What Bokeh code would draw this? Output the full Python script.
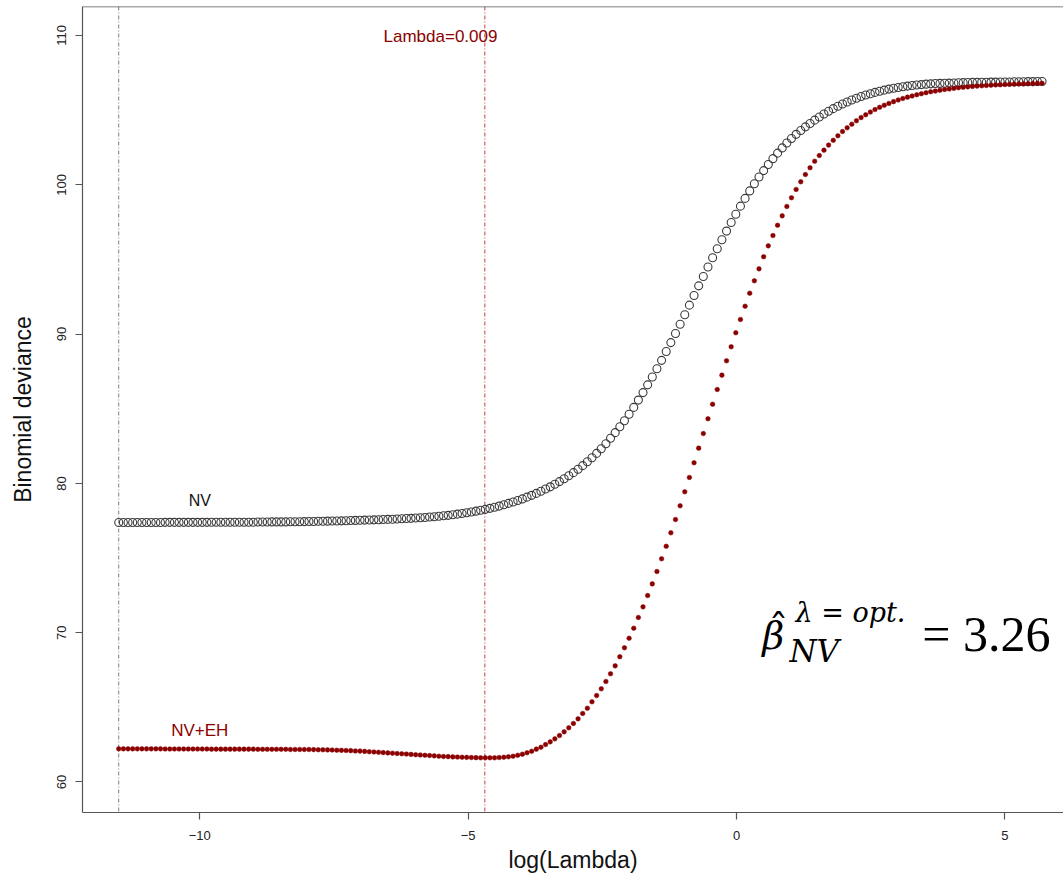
import numpy as np
from bokeh.plotting import figure
from bokeh.models import Range1d, FixedTicker, Span, Label
from bokeh.embed import file_html
from bokeh.resources import INLINE

# ---- data ----
log_lambda_first = -11.51
log_lambda_last = 5.69
opt_log_lambda = -4.69          # log(Lambda = 0.009)

nv_deviance = [
    77.38, 77.38, 77.38, 77.38, 77.38, 77.38, 77.38, 77.38, 77.38, 77.38,
    77.39, 77.39, 77.39, 77.39, 77.39, 77.39, 77.39, 77.39, 77.39, 77.39,
    77.40, 77.40, 77.40, 77.40, 77.40, 77.40, 77.40, 77.40, 77.40, 77.40,
    77.41, 77.41, 77.41, 77.42, 77.42, 77.42, 77.42, 77.43, 77.43, 77.43,
    77.44, 77.45, 77.45, 77.46, 77.46, 77.47, 77.48, 77.48, 77.49, 77.50,
    77.51, 77.52, 77.53, 77.54, 77.55, 77.56, 77.57, 77.58, 77.59, 77.60,
    77.62, 77.63, 77.65, 77.66, 77.68, 77.70, 77.72, 77.75, 77.77, 77.80,
    77.83, 77.86, 77.90, 77.94, 77.98, 78.03, 78.08, 78.14, 78.20, 78.26,
    78.33, 78.40, 78.48, 78.57, 78.66, 78.75, 78.85, 78.96, 79.08, 79.20,
    79.33, 79.47, 79.62, 79.77, 79.94, 80.12, 80.31, 80.51, 80.72, 80.95,
    81.19, 81.45, 81.72, 82.01, 82.32, 82.66, 83.02, 83.40, 83.79, 84.20,
    84.63, 85.09, 85.58, 86.08, 86.60, 87.13, 87.68, 88.24, 88.83, 89.43,
    90.04, 90.66, 91.30, 91.94, 92.59, 93.23, 93.86, 94.49, 95.11, 95.72,
    96.32, 96.90, 97.47, 98.03, 98.57, 99.09, 99.59, 100.07, 100.52, 100.95,
    101.36, 101.75, 102.12, 102.47, 102.80, 103.10, 103.38, 103.64, 103.88, 104.11,
    104.33, 104.54, 104.74, 104.93, 105.10, 105.26, 105.41, 105.55, 105.68, 105.80,
    105.91, 106.01, 106.10, 106.19, 106.27, 106.34, 106.41, 106.47, 106.52, 106.57,
    106.61, 106.65, 106.68, 106.71, 106.74, 106.76, 106.78, 106.79, 106.80, 106.81,
    106.82, 106.83, 106.84, 106.85, 106.86, 106.86, 106.87, 106.87, 106.88, 106.88,
    106.89, 106.89, 106.89, 106.90, 106.90, 106.90, 106.91, 106.91, 106.92, 106.92,
]

nv_eh_deviance = [
    62.22, 62.22, 62.22, 62.22, 62.22, 62.22, 62.22, 62.22, 62.22, 62.22,
    62.21, 62.21, 62.21, 62.21, 62.21, 62.21, 62.21, 62.21, 62.21, 62.21,
    62.20, 62.20, 62.20, 62.20, 62.20, 62.20, 62.20, 62.20, 62.20, 62.20,
    62.19, 62.19, 62.19, 62.19, 62.19, 62.19, 62.19, 62.18, 62.18, 62.18,
    62.18, 62.18, 62.17, 62.16, 62.16, 62.15, 62.14, 62.13, 62.12, 62.11,
    62.10, 62.08, 62.07, 62.05, 62.03, 62.01, 61.99, 61.97, 61.95, 61.93,
    61.91, 61.89, 61.87, 61.85, 61.83, 61.81, 61.79, 61.77, 61.75, 61.73,
    61.71, 61.70, 61.68, 61.67, 61.66, 61.65, 61.64, 61.63, 61.62, 61.62,
    61.62, 61.62, 61.64, 61.66, 61.69, 61.73, 61.79, 61.86, 61.96, 62.06,
    62.20, 62.33, 62.51, 62.69, 62.89, 63.11, 63.36, 63.63, 63.92, 64.23,
    64.59, 64.94, 65.37, 65.79, 66.24, 66.73, 67.25, 67.78, 68.39, 68.99,
    69.63, 70.30, 71.02, 71.73, 72.49, 73.27, 74.10, 74.95, 75.79, 76.69,
    77.58, 78.50, 79.44, 80.40, 81.38, 82.36, 83.34, 84.33, 85.30, 86.29,
    87.25, 88.21, 89.15, 90.09, 90.98, 91.87, 92.74, 93.57, 94.37, 95.18,
    95.91, 96.60, 97.29, 97.92, 98.55, 99.13, 99.69, 100.20, 100.69, 101.14,
    101.58, 101.96, 102.32, 102.66, 102.98, 103.28, 103.57, 103.82, 104.06, 104.29,
    104.50, 104.69, 104.87, 105.04, 105.19, 105.33, 105.45, 105.57, 105.68, 105.78,
    105.87, 105.95, 106.03, 106.10, 106.17, 106.23, 106.28, 106.33, 106.38, 106.42,
    106.46, 106.50, 106.53, 106.56, 106.59, 106.61, 106.63, 106.65, 106.67, 106.69,
    106.70, 106.72, 106.73, 106.74, 106.75, 106.76, 106.77, 106.78, 106.79, 106.80,
]

x_ticks = [-10, -5, 0, 5]
y_ticks = [60, 70, 80, 90, 100, 110]

# evenly spaced log(lambda) grid of the fit
log_lambda = np.linspace(log_lambda_first, log_lambda_last, len(nv_deviance))

DARKRED = "#8B0000"
AXIS_C = "#555555"

p = figure(width=1063, height=878, output_backend="svg", toolbar_location=None,
           x_range=Range1d(-12.185, 6.090), y_range=Range1d(57.957, 111.942),
           min_border_left=82, min_border_right=0, min_border_top=6,
           min_border_bottom=66)
p.background_fill_color = "white"
p.border_fill_color = "white"
p.outline_line_color = None
p.xgrid.grid_line_color = None
p.ygrid.grid_line_color = None

p.xaxis.ticker = FixedTicker(ticks=x_ticks)
p.yaxis.ticker = FixedTicker(ticks=y_ticks)
for ax in (p.xaxis, p.yaxis):
    ax.axis_line_color = AXIS_C
    ax.axis_line_width = 1.2
    ax.major_tick_line_color = AXIS_C
    ax.major_tick_line_width = 1.2
    ax.major_tick_out = 7
    ax.major_tick_in = 0
    ax.minor_tick_line_color = None
    ax.major_label_text_font = "Liberation Sans"
    ax.major_label_text_font_size = "13px"
    ax.major_label_text_color = "#222222"
    ax.axis_label_text_font = "Liberation Sans"
    ax.axis_label_text_font_size = "23px"
    ax.axis_label_text_font_style = "normal"
    ax.axis_label_text_color = "#111111"

p.xaxis.axis_label = "log(Lambda)"
p.yaxis.axis_label = "Binomial deviance"
p.xaxis.major_label_standoff = 11
p.xaxis.axis_label_standoff = 4
p.yaxis.major_label_standoff = 9
p.yaxis.axis_label_standoff = 19
p.yaxis.major_label_orientation = "vertical"

# top border of the box
p.add_layout(Span(location=111.942, dimension="width", line_color=AXIS_C, line_width=1.5))

# reference lines
p.add_layout(Span(location=log_lambda_first, dimension="height", line_color="#808080",
                  line_width=1, line_dash="4 2 1 2", level="underlay"))
p.add_layout(Span(location=opt_log_lambda, dimension="height", line_color="#C04040",
                  line_width=1, line_dash="4 2 1 2", level="underlay"))

# data
p.scatter(log_lambda, nv_deviance, marker="circle", size=8, fill_color=None,
          line_color="#3a3a3a", line_width=1.1)
p.scatter(log_lambda, nv_eh_deviance, marker="circle", size=4.6, fill_color=DARKRED,
          line_color=DARKRED, line_width=0.5)

# text annotations
p.add_layout(Label(x=-10.0, y=78.87, text="NV", text_align="center", text_baseline="alphabetic",
                   text_font="Liberation Sans", text_font_size="16px", text_color="#111111"))
p.add_layout(Label(x=-10.0, y=63.43, text="NV+EH", text_align="center", text_baseline="alphabetic",
                   text_font="Liberation Sans", text_font_size="17px", text_color=DARKRED))
p.add_layout(Label(x=-5.516, y=109.93, text="Lambda=0.009", text_align="center",
                   text_baseline="alphabetic", text_font="Liberation Sans",
                   text_font_size="17px", text_color=DARKRED))

# formula  beta-hat_NV^(lambda=opt.) = 3.26
SERIF_I = "DejaVu Serif"
p.add_layout(Label(x=0.48, y=69.78, text="β", text_baseline="alphabetic", text_font=SERIF_I,
                   text_font_style="italic", text_font_size="38px", text_color="black"))
p.add_layout(Label(x=0.595, y=70.34, text="ˆ", text_baseline="alphabetic", text_font="DejaVu Serif",
                   text_font_size="40px", text_color="black"))
p.add_layout(Label(x=0.985, y=68.76, text="NV", text_baseline="alphabetic", text_font=SERIF_I,
                   text_font_style="italic", text_font_size="31px", text_color="black"))
p.add_layout(Label(x=1.097, y=71.35, text="λ = opt.", text_baseline="alphabetic", text_font=SERIF_I,
                   text_font_style="italic", text_font_size="27px", text_color="black"))
p.add_layout(Label(x=3.460, y=69.91, text="= 3.26", text_baseline="alphabetic",
                   text_font="Liberation Serif", text_font_size="50px", text_color="black"))

open("out.html", "w").write(file_html(p, INLINE))
